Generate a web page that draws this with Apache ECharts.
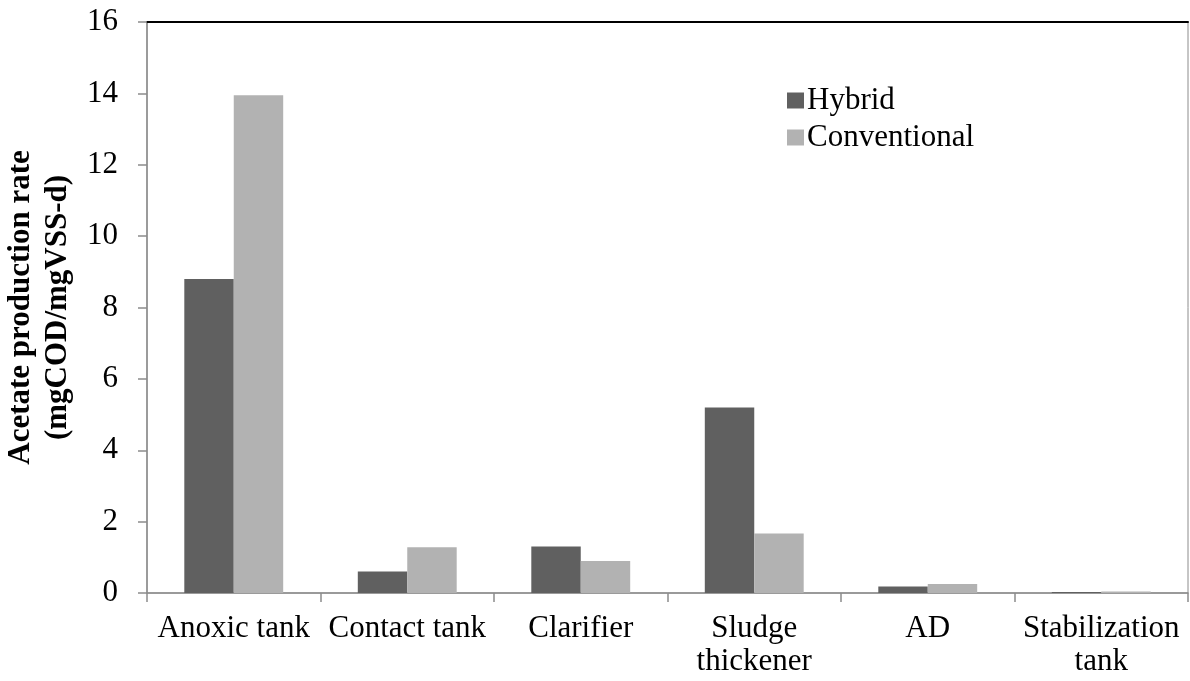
<!DOCTYPE html>
<html>
<head>
<meta charset="utf-8">
<script src="https://cdn.jsdelivr.net/npm/echarts@6/dist/echarts.min.js"></script>
<style>html,body{margin:0;padding:0;background:#fff;}#c{width:1190px;height:681px;}</style>
</head>
<body>
<div id="c"></div>
<script>
const categories = ['Anoxic tank', 'Contact tank', 'Clarifier', 'Sludge\nthickener', 'AD', 'Stabilization\ntank'];
const hybrid = [8.8, 0.6, 1.3, 5.2, 0.18, 0.03];
const conventional = [13.95, 1.28, 0.9, 1.67, 0.25, 0.04];
const yTicks = {min: 0, max: 16, interval: 2};
const yTitle = 'Acetate production rate\n(mgCOD/mgVSS-d)';

const font = '"Liberation Serif", "Times New Roman", serif';
const chart = echarts.init(document.getElementById('c'));
chart.setOption({
  animation: false,
  backgroundColor: '#fff',
  textStyle: {fontFamily: font},
  grid: {left: 147, right: 2, top: 22, bottom: 88, show: true, borderColor: '#8c8c8c', borderWidth: 1,
         containLabel: false, outerBoundsMode: 'none'},
  legend: {
    orient: 'vertical', left: 782, top: 80,
    itemWidth: 17, itemHeight: 16, itemGap: 6,
    icon: 'rect',
    textStyle: {fontFamily: font, fontSize: 31, color: '#000', padding: [0, 0, 0, -2]},
    data: ['Hybrid', 'Conventional']
  },
  xAxis: [{
    type: 'category', data: categories,
    axisLine: {lineStyle: {color: '#8c8c8c', width: 1.5}},
    axisTick: {show: true, length: 9, lineStyle: {color: '#8c8c8c', width: 1.5}},
    axisLabel: {fontFamily: font, fontSize: 31, color: '#000', margin: 19, lineHeight: 33, interval: 0}
  }, {
    type: 'category', data: categories, position: 'top',
    axisLine: {show: true, lineStyle: {color: '#000', width: 2}},
    axisTick: {show: false}, axisLabel: {show: false}
  }],
  yAxis: {
    type: 'value', min: yTicks.min, max: yTicks.max, interval: yTicks.interval,
    splitLine: {show: false},
    axisLine: {show: true, lineStyle: {color: '#8c8c8c', width: 1.5}},
    axisTick: {show: true, length: 9, lineStyle: {color: '#8c8c8c', width: 1.5}},
    axisLabel: {fontFamily: font, fontSize: 31, color: '#000', margin: 29},
    name: yTitle, nameLocation: 'middle', nameGap: 66, nameRotate: 90,
    nameTextStyle: {fontFamily: font, fontSize: 31, fontWeight: 'bold', color: '#000', lineHeight: 37}
  },
  series: [{
    name: 'Hybrid', type: 'bar', data: hybrid, barGap: '0%', barCategoryGap: '43%',
    itemStyle: {color: '#606060'}
  }, {
    name: 'Conventional', type: 'bar', data: conventional, barGap: '0%', barCategoryGap: '43%',
    itemStyle: {color: '#b2b2b2'}
  }]
});
</script>
</body>
</html>
